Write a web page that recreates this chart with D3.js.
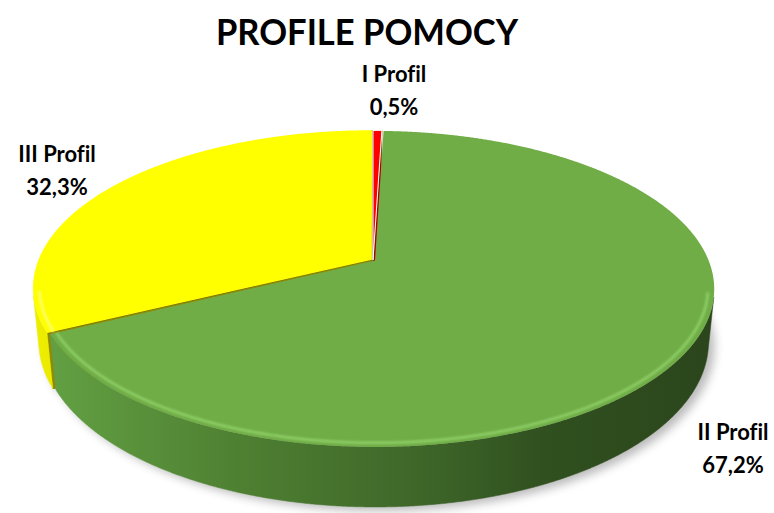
<!DOCTYPE html>
<html><head><meta charset="utf-8">
<script src="https://cdn.jsdelivr.net/npm/d3@7"></script>
<style>body{margin:0;background:#fff}svg{display:block}text{font-family:Lato,"Open Sans",sans-serif;font-weight:bold;fill:#000;font-variant-ligatures:none;font-feature-settings:"liga" 0}</style>
</head><body><svg id="c" width="774" height="513"></svg>
<script>
const categories = ["I Profil", "II Profil", "III Profil"];
const values = [0.5, 67.2, 32.3];
const valueLabels = ["0,5%", "67,2%", "32,3%"];
const title = "PROFILE POMOCY";

const topColors = ["#ff0000", "#70ad47", "#ffff00"];
const cutColors = ["#b00000", "#4f7f33", "#8f8a00"];
const explode = [0, 0.007, 0.004];

const svg = d3.select("#c");
const cx = 373, cy = 260, k = 1655, dist = 4.963, sinA = 0.458, cosA = Math.sqrt(1 - sinA * sinA), depthH = 0.18;
const cam = [0, -dist * cosA, dist * sinA];
function proj(X, Y, Z) {
  const vy = Y + dist * cosA, vz = Z - dist * sinA;
  const dep = vy * cosA - vz * sinA;
  const sy = vy * sinA + vz * cosA;
  return [cx + k * X / dep, cy - k * sy / dep, dep];
}
const line = d3.line().x(d => d[0]).y(d => d[1]);

const defs = svg.append("defs");
function grad(id, stops) {
  const g = defs.append("linearGradient").attr("id", id).attr("gradientUnits", "userSpaceOnUse")
    .attr("x1", 30).attr("x2", 720).attr("y1", 0).attr("y2", 0);
  stops.forEach(s => g.append("stop").attr("offset", s[0]).attr("stop-color", s[1]));
}
grad("w0", [[0, "#d00000"], [1, "#800000"]]);
grad("w1", [[0, "#64a344"], [0.32, "#4d7e31"], [0.55, "#3f682a"], [0.75, "#30501f"], [1, "#2b451c"]]);
grad("w2", [[0, "#eeee00"], [0.1, "#e4e400"], [1, "#999900"]]);
const blur = defs.append("filter").attr("id", "sh").attr("x", "-20%").attr("y", "-20%").attr("width", "140%").attr("height", "140%");
blur.append("feGaussianBlur").attr("stdDeviation", 5);
const blur2 = defs.append("filter").attr("id", "hl").attr("x", "-10%").attr("y", "-10%").attr("width", "120%").attr("height", "120%");
blur2.append("feGaussianBlur").attr("stdDeviation", 1.2);

const arcs = d3.pie().sort(null).value(d => d).startAngle(0).endAngle(2 * Math.PI)(values);
const step = Math.PI / 720;

const slices = arcs.map((a, i) => {
  const mid = (a.startAngle + a.endAngle) / 2;
  const e = explode[i];
  return { i, a0: a.startAngle, a1: a.endAngle, ox: e * Math.sin(mid), oy: e * Math.cos(mid) };
});
function P(s, ang, r, z) { return proj(s.ox + r * Math.sin(ang), s.oy + r * Math.cos(ang), z); }
function angles(s) {
  const n = Math.max(2, Math.ceil((s.a1 - s.a0) / step));
  return d3.range(n + 1).map(j => s.a0 + (s.a1 - s.a0) * j / n);
}

// shadow
const shadowG = svg.append("g").attr("filter", "url(#sh)").attr("opacity", 0.4);
slices.forEach(s => {
  const ang = angles(s);
  const pts = [P(s, 0, 0, -depthH)].concat(ang.map(a => P(s, a, 1, -depthH)));
  shadowG.append("path").attr("d", line(pts) + "Z").attr("fill", "#555")
    .attr("transform", "translate(6,4)");
});

const faces = [];
slices.forEach(s => {
  const ang = angles(s);
  let run = [];
  const flush = () => {
    if (run.length > 1) {
      const top = run.map(a => P(s, a, 1, 0));
      const bot = run.slice().reverse().map(a => P(s, a, 1, -depthH));
      const pts = top.concat(bot);
      faces.push({ pts, fill: "url(#w" + s.i + ")", depth: d3.mean(pts, p => p[2]) });
    }
    run = [];
  };
  ang.forEach(a => {
    const X = s.ox + Math.sin(a), Y = s.oy + Math.cos(a);
    const f = Math.sin(a) * (cam[0] - X) + Math.cos(a) * (cam[1] - Y);
    if (f > 0) run.push(a); else flush();
  });
  flush();
  [[s.a0, -1], [s.a1, 1]].forEach(([a, sg]) => {
    const nx = sg * Math.cos(a), ny = -sg * Math.sin(a);
    const mx = s.ox + 0.5 * Math.sin(a), my = s.oy + 0.5 * Math.cos(a);
    const f = nx * (cam[0] - mx) + ny * (cam[1] - my);
    if (f > 0) {
      const pts = [P(s, a, 0, 0), P(s, a, 1, 0), P(s, a, 1, -depthH), P(s, a, 0, -depthH)];
      faces.push({ pts, fill: cutColors[s.i], depth: d3.mean(pts, p => p[2]), cut: true });
    }
  });
});
faces.sort((a, b) => b.depth - a.depth);
svg.append("g").selectAll("path").data(faces).join("path")
  .attr("d", f => line(f.pts) + "Z")
  .attr("fill", f => f.fill)
  .attr("stroke", f => f.cut ? "#6d6a00" : f.fill)
  .attr("stroke-width", f => f.cut ? 0.8 : 0.5);

// top faces
const tops = svg.append("g");
slices.forEach(s => {
  const ang = angles(s);
  const pts = [P(s, 0, 0, 0)].concat(ang.map(a => P(s, a, 1, 0)));
  tops.append("path").attr("d", line(pts) + "Z").attr("fill", topColors[s.i])
    .attr("stroke", s.i === 0 ? "#fff" : "none").attr("stroke-width", s.i === 0 ? 1 : 0);
});
// rim highlight
const hlG = svg.append("g").attr("filter", "url(#hl)");
slices.forEach(s => {
  const ang = angles(s).filter(a => Math.cos(a) < -0.2);
  if (ang.length < 2) return;
  hlG.append("path").attr("d", line(ang.map(a => P(s, a, 0.982, 0))))
    .attr("fill", "none").attr("stroke", s.i === 1 ? "#93d46b" : "#ffff80").attr("stroke-width", 2.5).attr("opacity", 0.9);
});

// title
svg.append("text").attr("x", 367).attr("y", 45).attr("text-anchor", "middle")
  .attr("font-size", 36).attr("textLength", 302).attr("lengthAdjust", "spacingAndGlyphs").text(title);

// labels
const labelPos = [[394, 82], [733, 440], [57, 162]];
categories.forEach((c, i) => {
  const t = svg.append("text").attr("text-anchor", "middle").attr("font-size", 22);
  t.append("tspan").attr("x", labelPos[i][0]).attr("y", labelPos[i][1]).text(c);
  t.append("tspan").attr("x", labelPos[i][0]).attr("y", labelPos[i][1] + 33).text(valueLabels[i]);
});
</script></body></html>
